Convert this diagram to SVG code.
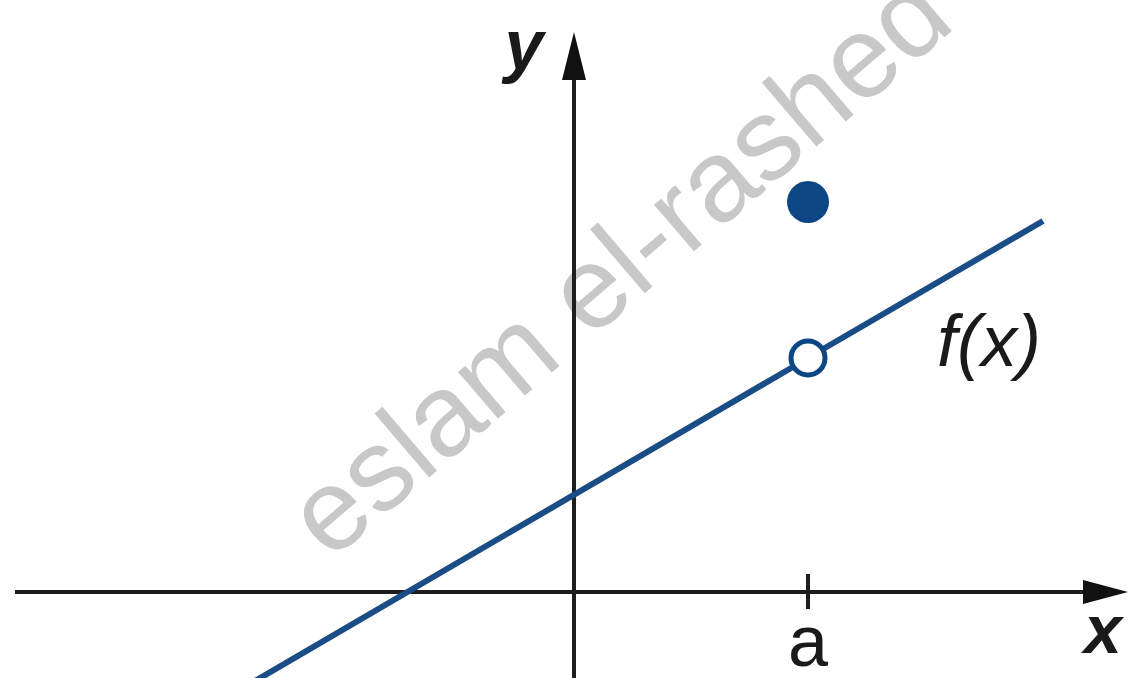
<svg xmlns="http://www.w3.org/2000/svg" width="1130" height="678" viewBox="0 0 1130 678">
<style>
.axis{stroke:#1e1e1e;stroke-width:4;fill:none}
.head{fill:#111}
.graph{stroke:#1a4c85;stroke-width:6;fill:none;stroke-linecap:butt}
.lbl{font-family:"Liberation Sans",Arial,sans-serif;fill:#1a1a1a}
.wm{font-family:"Liberation Sans",Arial,sans-serif;fill:#c8c8c8;font-size:116px}
</style>
<rect width="1130" height="678" fill="#ffffff"/>
<g id="watermark">
<text class="wm" x="0" y="0" transform="translate(330,562) rotate(-40.5)">eslam el-rashed</text>
</g>
<g id="axes">
<line class="axis" x1="15" y1="592" x2="1090" y2="592"/>
<polygon class="head" points="1128,592 1083,580 1083,604"/>
<line class="axis" x1="574" y1="678" x2="574" y2="75"/>
<polygon class="head" points="574,32 562,80 586,80"/>
<line class="axis" x1="808" y1="574" x2="808" y2="609"/>
</g>
<g id="connectors">
<line class="graph" x1="255" y1="681" x2="792" y2="367.5"/>
<line class="graph" x1="824" y1="348.5" x2="1043" y2="221"/>
</g>
<g id="open-point">
<circle cx="808" cy="358" r="17" fill="#ffffff" stroke="#0c4683" stroke-width="5"/>
</g>
<g id="filled-point">
<circle cx="808" cy="202" r="21" fill="#0c4683"/>
</g>
<g id="labels">
<text class="lbl" x="524" y="69" font-size="70" font-weight="bold" font-style="italic" text-anchor="middle">y</text>
<text class="lbl" x="1103" y="653" font-size="68" font-weight="bold" font-style="italic" text-anchor="middle">x</text>
<text class="lbl" x="808" y="666" font-size="72" text-anchor="middle">a</text>
<text class="lbl" x="937" y="366" font-size="72" font-style="italic">f(x)</text>
</g>
</svg>
